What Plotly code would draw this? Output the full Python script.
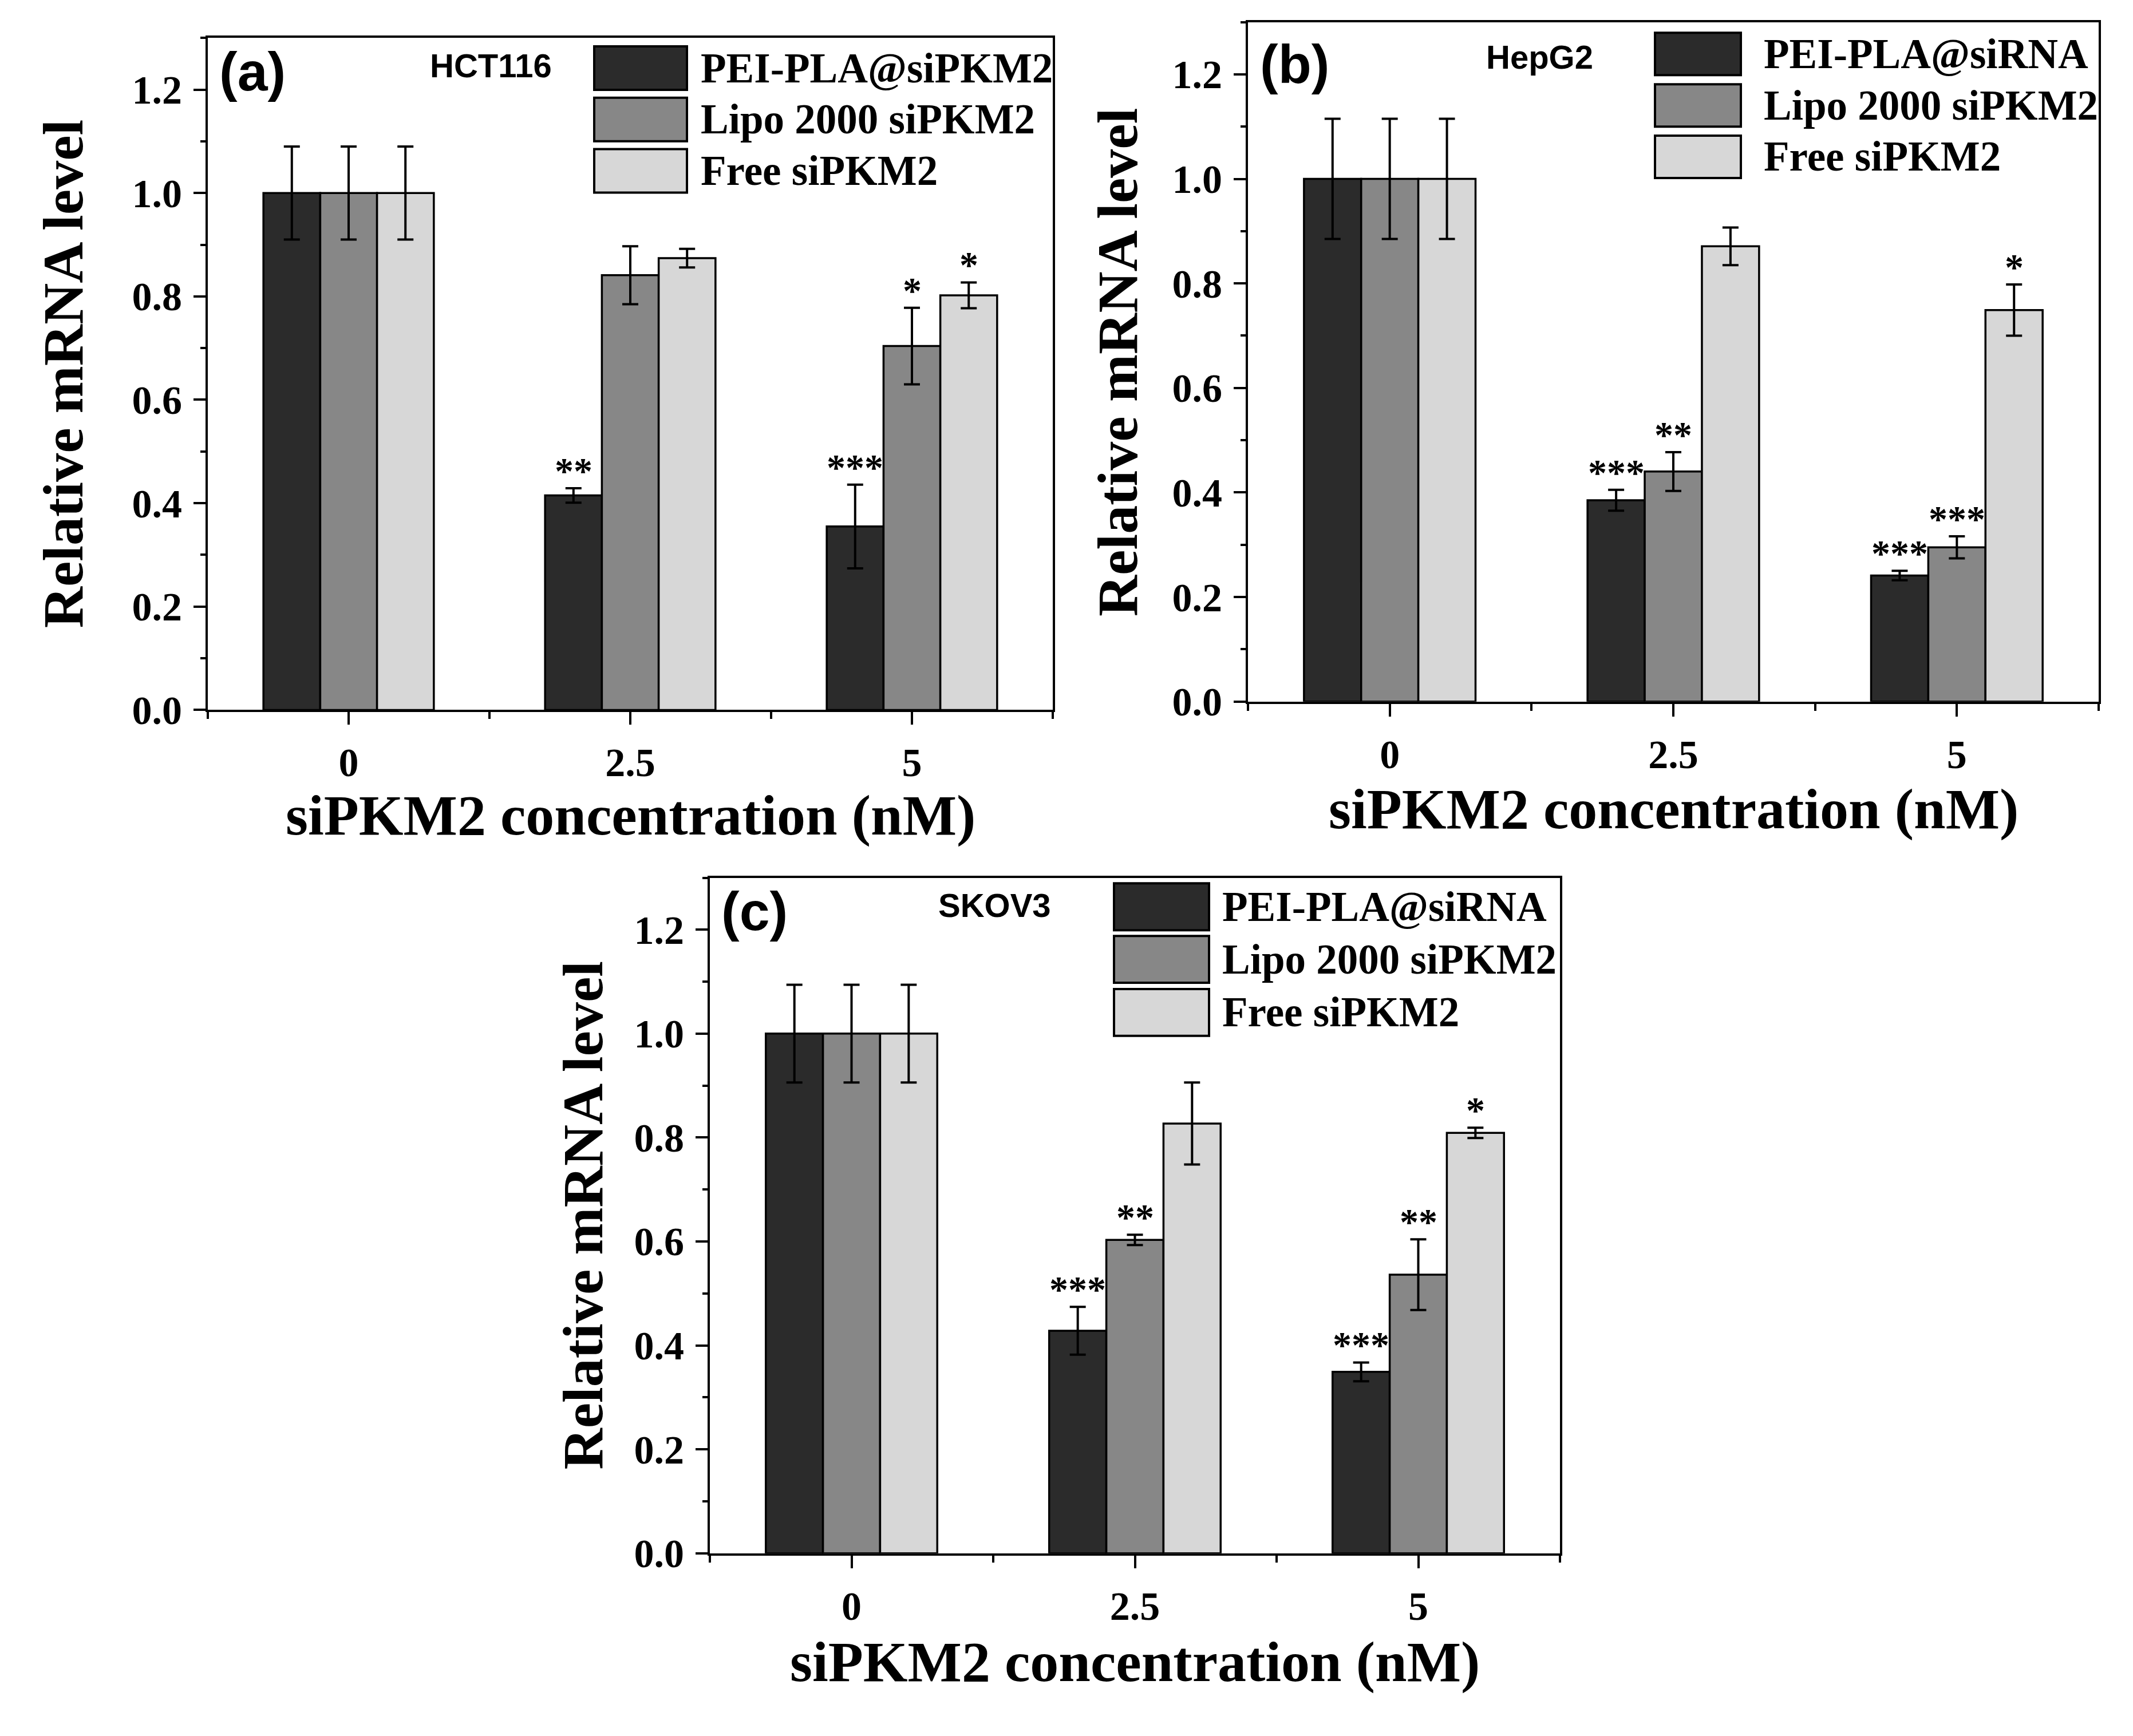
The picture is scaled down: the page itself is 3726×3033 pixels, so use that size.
import plotly.graph_objects as go

# x categories (siPKM2 concentration, nM)
CONCENTRATIONS = ["0", "2.5", "5"]
BAR_COLORS = ["#2b2b2b", "#878787", "#d7d7d7"]

# (a) HCT116 -- one row per formulation
hct116_names = ["PEI-PLA@siPKM2", "Lipo 2000 siPKM2", "Free siPKM2"]
hct116_mean = [[1.0, 0.415, 0.355], [1.0, 0.841, 0.704], [1.0, 0.874, 0.802]]
hct116_err = [[0.09, 0.014, 0.081], [0.09, 0.056, 0.074], [0.09, 0.018, 0.025]]
hct116_stars = [["", "**", "***"], ["", "", "*"], ["", "", "*"]]

# (b) HepG2
hepg2_names = ["PEI-PLA@siRNA", "Lipo 2000 siPKM2", "Free siPKM2"]
hepg2_mean = [[1.0, 0.385, 0.241], [1.0, 0.440, 0.295], [1.0, 0.871, 0.749]]
hepg2_err = [[0.115, 0.020, 0.009], [0.115, 0.037, 0.021], [0.115, 0.036, 0.049]]
hepg2_stars = [["", "***", "***"], ["", "**", "***"], ["", "", "*"]]

# (c) SKOV3
skov3_names = ["PEI-PLA@siRNA", "Lipo 2000 siPKM2", "Free siPKM2"]
skov3_mean = [[1.0, 0.428, 0.349], [1.0, 0.603, 0.536], [1.0, 0.827, 0.809]]
skov3_err = [[0.094, 0.046, 0.018], [0.094, 0.010, 0.068], [0.094, 0.079, 0.010]]
skov3_stars = [["", "***", "***"], ["", "**", "**"], ["", "", "*"]]

Y_TICKS = [0.0, 0.2, 0.4, 0.6, 0.8, 1.0, 1.2]

# page geometry (body margin of 8px around the figure)
FIG_W, FIG_H, OFF = 3710, 3017, 8
BAR_GAP = 0.395
SERIF = "Liberation Serif"
SANS = "Liberation Sans"


def px(x):
    return (x - OFF) / FIG_W


def py(y):
    return 1 - (y - OFF) / FIG_H


# layout of each panel in reference pixels: axes box, labels, legend
PANELS = [
    dict(tag="(a)", cell="HCT116", names=hct116_names, mean=hct116_mean, err=hct116_err,
         stars=hct116_stars, box=(363, 1839, 67, 1257), tag_pos=(381, 127), cell_pos=(857, 116),
         leg_x=(1038, 1200), leg_rows=(82, 173, 264), leg_h=77, leg_text=1222,
         ytitle_x=110, xtitle_y=1444),
    dict(tag="(b)", cell="HepG2", names=hepg2_names, mean=hepg2_mean, err=hepg2_err,
         stars=hepg2_stars, box=(2180, 3666, 39, 1242), tag_pos=(2199, 113), cell_pos=(2689, 101),
         leg_x=(2891, 3041), leg_rows=(58, 149, 240), leg_h=75, leg_text=3079,
         ytitle_x=1952, xtitle_y=1432),
    dict(tag="(c)", cell="SKOV3", names=skov3_names, mean=skov3_mean, err=skov3_err,
         stars=skov3_stars, box=(1240, 2725, 1554, 2750), tag_pos=(1258, 1613), cell_pos=(1737, 1603),
         leg_x=(1946, 2112), leg_rows=(1564, 1657, 1751), leg_h=83, leg_text=2133,
         ytitle_x=1019, xtitle_y=2942),
]

fig = go.Figure()
annotations = []
shapes = []
bar_w = (1 - BAR_GAP) / 3

for p_i, panel in enumerate(PANELS):
    sfx = "" if p_i == 0 else str(p_i + 1)
    xref, yref = "x" + sfx, "y" + sfx
    x0, x1, y0, y1 = panel["box"]

    for k in range(3):
        fig.add_trace(go.Bar(
            x=list(range(len(CONCENTRATIONS))),
            y=panel["mean"][k],
            name=panel["names"][k],
            marker=dict(color=BAR_COLORS[k], line=dict(color="black", width=3.5)),
            error_y=dict(type="data", array=panel["err"][k], color="black", thickness=4, width=14),
            xaxis=xref, yaxis=yref, showlegend=False,
        ))
        # significance marks above the error bars
        for i, s in enumerate(panel["stars"][k]):
            if s:
                annotations.append(dict(
                    x=i + (k - 1) * bar_w, y=panel["mean"][k][i] + panel["err"][k][i],
                    xref=xref, yref=yref, text=s, showarrow=False, yanchor="bottom",
                    yshift=-8, font=dict(family=SERIF, size=66, color="black", weight="bold"),
                ))

    axis_common = dict(showline=True, linecolor="black", linewidth=4, mirror=True,
                       ticks="outside", tickwidth=4, tickcolor="black", showgrid=False,
                       zeroline=False,
                       tickfont=dict(family=SERIF, size=70, color="black", weight="bold"))
    fig.update_layout(**{
        "xaxis" + sfx: dict(axis_common, domain=[px(x0), px(x1)], anchor=yref,
                            range=[-0.5, 2.5], tickvals=[0, 1, 2], ticktext=CONCENTRATIONS,
                            ticklen=22, ticklabelstandoff=6,
                            minor=dict(tickvals=[-0.5, 0.5, 1.5, 2.5], ticklen=12,
                                       tickwidth=4, ticks="outside", tickcolor="black")),
        "yaxis" + sfx: dict(axis_common, domain=[py(y1), py(y0)], anchor=xref,
                            range=[0, 1.3], tickvals=Y_TICKS, tickformat=".1f",
                            ticklen=21, ticklabelstandoff=6,
                            minor=dict(dtick=0.1, ticklen=9, tickwidth=4, ticks="outside",
                                       tickcolor="black")),
    })

    # axis titles
    annotations.append(dict(
        x=px(panel["ytitle_x"]), y=py((y0 + y1) / 2), xref="paper", yref="paper",
        text="Relative mRNA level", textangle=-90, showarrow=False,
        xanchor="center", yanchor="middle",
        font=dict(family=SERIF, size=100, color="black", weight="bold")))
    annotations.append(dict(
        x=px((x0 + x1) / 2), y=py(panel["xtitle_y"]), xref="paper", yref="paper",
        text="siPKM2 concentration (nM)", showarrow=False,
        xanchor="center", yanchor="middle",
        font=dict(family=SERIF, size=100, color="black", weight="bold")))

    # panel tag and cell line
    annotations.append(dict(
        x=px(panel["tag_pos"][0]), y=py(panel["tag_pos"][1]), xref="paper", yref="paper",
        text=panel["tag"], showarrow=False, xanchor="left", yanchor="middle",
        font=dict(family=SANS, size=95, color="black", weight="bold")))
    annotations.append(dict(
        x=px(panel["cell_pos"][0]), y=py(panel["cell_pos"][1]), xref="paper", yref="paper",
        text=panel["cell"], showarrow=False, xanchor="center", yanchor="middle",
        font=dict(family=SANS, size=58, color="black", weight="bold")))

    # legend drawn as big swatches
    lx0, lx1 = panel["leg_x"]
    for k, top in enumerate(panel["leg_rows"]):
        shapes.append(dict(
            type="rect", xref="paper", yref="paper",
            x0=px(lx0), x1=px(lx1), y0=py(top + panel["leg_h"]), y1=py(top),
            fillcolor=BAR_COLORS[k], line=dict(color="black", width=4)))
        annotations.append(dict(
            x=px(panel["leg_text"]), y=py(top + panel["leg_h"] / 2), xref="paper", yref="paper",
            text=panel["names"][k], showarrow=False, xanchor="left", yanchor="middle",
            font=dict(family=SERIF, size=73, color="black", weight="bold")))

fig.update_layout(
    width=FIG_W, height=FIG_H,
    margin=dict(l=0, r=0, t=0, b=0),
    paper_bgcolor="white", plot_bgcolor="white",
    barmode="group", bargap=BAR_GAP, bargroupgap=0,
    annotations=annotations, shapes=shapes,
    showlegend=False,
)

fig.write_html("out.html")
